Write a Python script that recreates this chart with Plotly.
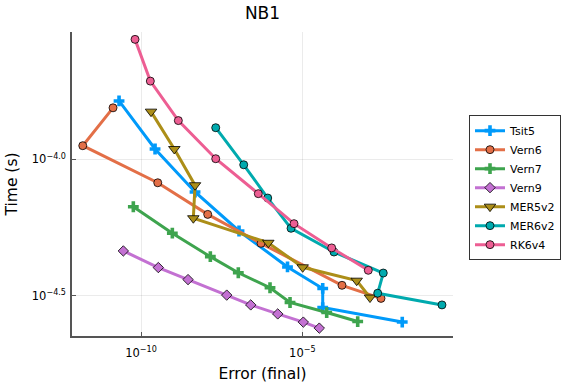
import plotly.graph_objects as go

# Work-precision data (error, time in seconds)
tsit5_err = [2.08e-11, 2.72e-10, 4.72e-9, 1.09e-7, 3.47e-6, 4.28e-5, 4.28e-5, 1.25e-2]
tsit5_time = [1.637e-4, 1.091e-4, 7.59e-5, 5.46e-5, 4.03e-5, 3.36e-5, 2.86e-5, 2.53e-5]

vern6_err = [1.355e-11, 1.56e-12, 3.296e-10, 1.167e-8, 5.236e-7, 1.694e-4, 2.742e-3]
vern6_time = [1.545e-4, 1.122e-4, 8.204e-5, 6.281e-5, 4.92e-5, 3.451e-5, 3.09e-5]

vern7_err = [5.768e-11, 9.333e-10, 1.406e-8, 1.035e-7, 9.954e-7, 4.15e-6, 5.689e-5, 5.2e-4]
vern7_time = [6.699e-5, 5.358e-5, 4.395e-5, 3.837e-5, 3.381e-5, 2.985e-5, 2.742e-5, 2.541e-5]

vern9_err = [2.825e-11, 3.436e-10, 2.864e-9, 4.529e-8, 2.512e-7, 1.726e-6, 1.072e-5, 3.357e-5]
vern9_time = [4.613e-5, 4.009e-5, 3.622e-5, 3.177e-5, 2.924e-5, 2.71e-5, 2.529e-5, 2.404e-5]

mer5_err = [2.042e-10, 1.076e-9, 4.721e-9, 4.178e-9, 8.81e-7, 1.026e-5, 4.842e-4, 1.25e-3]
mer5_time = [1.496e-4, 1.091e-4, 8.035e-5, 6.081e-5, 4.943e-5, 4.018e-5, 3.589e-5, 3.112e-5]

mer6_err = [2.065e-8, 1.524e-7, 8.453e-7, 4.457e-6, 9.572e-5, 3.228e-3, 2.168e-3, 0.2128]
mer6_time = [1.306e-4, 9.55e-5, 7.211e-5, 5.585e-5, 4.571e-5, 3.828e-5, 3.228e-5, 2.924e-5]

rk6_err = [6.516e-11, 1.941e-10, 1.432e-9, 2.065e-8, 4.315e-7, 5.521e-6, 8.128e-5, 1.107e-3]
rk6_time = [2.754e-4, 1.936e-4, 1.387e-4, 1.005e-4, 7.482e-5, 5.808e-5, 4.732e-5, 3.917e-5]

series = [
    ("Tsit5", tsit5_err, tsit5_time, "#009AFA", "cross"),
    ("Vern6", vern6_err, vern6_time, "#E36F47", "circle"),
    ("Vern7", vern7_err, vern7_time, "#3EA44E", "cross"),
    ("Vern9", vern9_err, vern9_time, "#C371D2", "diamond"),
    ("MER5v2", mer5_err, mer5_time, "#AC8E18", "triangle-down"),
    ("MER6v2", mer6_err, mer6_time, "#00AAAE", "circle"),
    ("RK6v4", rk6_err, rk6_time, "#ED5E93", "circle"),
]
marker_sizes = {"cross": 9, "circle": 8, "diamond": 8, "triangle-down": 10}

x_tickvals = [1e-10, 1e-5]
x_ticktext = ["10<sup>−10</sup>", "10<sup>−5</sup>"]
y_tickvals = [1e-4, 10 ** -4.5]
y_ticktext = ["10<sup>−4.0</sup>", "10<sup>−4.5</sup>"]

fig = go.Figure()
for name, xs, ys, color, sym in series:
    is_cross = sym == "cross"
    fig.add_trace(go.Scatter(
        x=xs, y=ys, name=name, mode="lines+markers",
        line=dict(color=color, width=3),
        marker=dict(symbol=sym, size=marker_sizes[sym], color=color,
                    line=dict(color="#000000", width=0 if is_cross else 0.8)),
    ))

font = "DejaVu Sans, sans-serif"
fig.update_layout(
    width=576, height=384,
    margin=dict(l=72, r=123, t=32, b=48, autoexpand=False),
    paper_bgcolor="white", plot_bgcolor="white",
    font=dict(family=font, color="black"),
    title=dict(text="NB1", x=(72 + 453) / 2 / 576, xanchor="center",
               y=1 - 13 / 384, yanchor="middle", font=dict(size=17)),
    showlegend=True,
    legend=dict(x=1.042, xanchor="left", y=0.488, yanchor="middle",
                bordercolor="#333333", borderwidth=1, bgcolor="white",
                font=dict(size=11), itemwidth=30),
)
fig.update_xaxes(
    type="log", range=[-12.14, -0.33], automargin=False,
    tickvals=x_tickvals, ticktext=x_ticktext, tickfont=dict(size=11.5),
    ticklabelstandoff=5,
    showgrid=True, gridcolor="rgba(0,0,0,0.08)", gridwidth=1,
    showline=True, linecolor="#555555", linewidth=1.5, mirror=False,
    ticks="inside", ticklen=4, tickcolor="#555555", zeroline=False,
    title=dict(text="Error (final)", font=dict(size=15.5), standoff=10),
)
fig.update_yaxes(
    type="log", range=[-4.648, -3.533], automargin=False,
    tickvals=y_tickvals, ticktext=y_ticktext, tickfont=dict(size=11.5),
    ticklabelstandoff=2,
    showgrid=True, gridcolor="rgba(0,0,0,0.08)", gridwidth=1,
    showline=True, linecolor="#555555", linewidth=1.5, mirror=False,
    ticks="inside", ticklen=4, tickcolor="#555555", zeroline=False,
    title=dict(text="Time (s)", font=dict(size=15.5), standoff=10),
)

fig.write_html("out.html", config={"displayModeBar": False},
               post_script="document.body.style.margin='0';document.body.style.padding='0';")
